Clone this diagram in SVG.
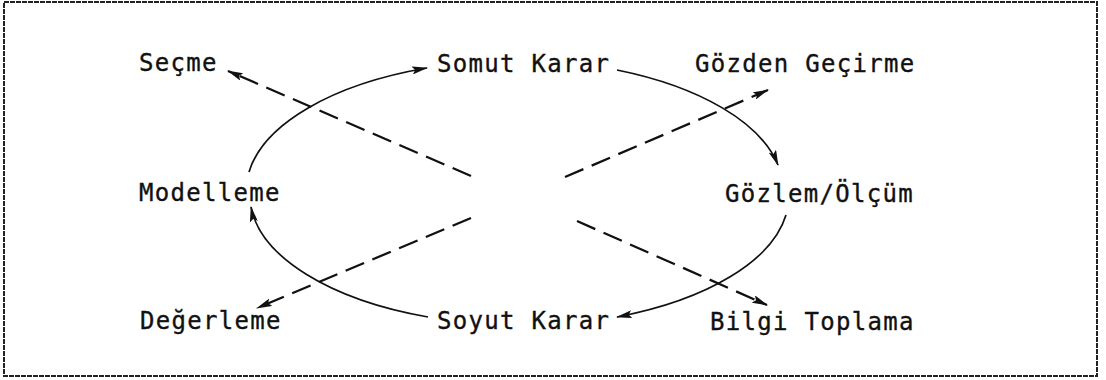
<svg xmlns="http://www.w3.org/2000/svg" width="1106" height="380" viewBox="0 0 1106 380">
<style>
.lbl{font-family:"DejaVu Sans Mono","Liberation Mono",monospace;font-size:24px;letter-spacing:1.3px;fill:#111;stroke:#111;stroke-width:0.35}
.arc{fill:none;stroke:#111;stroke-width:1.7}
.dash{fill:none;stroke:#111;stroke-width:2.3;stroke-dasharray:20 9}
</style>
<defs>
<marker id="ah" viewBox="0 0 16 8" markerWidth="16" markerHeight="8" refX="15" refY="4" orient="auto" markerUnits="userSpaceOnUse">
<path d="M0,0 L16,4 L0,8 L3,4 z" fill="#111"/>
</marker>
</defs>
<rect x="4" y="2" width="1093" height="374" fill="#fff" stroke="#222" stroke-width="2" stroke-dasharray="5 1"/>
<g id="connectors">
<path class="arc" d="M249,172 A272,130 0 0 1 427,68" marker-end="url(#ah)"/>
<path class="arc" d="M617,70 A272,130 0 0 1 778,165" marker-end="url(#ah)"/>
<path class="arc" d="M786,215 A272,130 0 0 1 617,317" marker-end="url(#ah)"/>
<path class="arc" d="M428,317 A272,130 0 0 1 251,207" marker-end="url(#ah)"/>
<path class="dash" d="M471,176 L228,71" marker-end="url(#ah)"/>
<path class="dash" d="M565,177 L768,90" marker-end="url(#ah)"/>
<path class="dash" d="M471,218 L257,308" marker-end="url(#ah)"/>
<path class="dash" d="M577,221 L767,305" marker-end="url(#ah)"/>
</g>
<g id="n-secme"><text class="lbl" x="139" y="71">Seçme</text></g>
<g id="n-somut"><text class="lbl" x="437" y="72">Somut Karar</text></g>
<g id="n-gozden"><text class="lbl" x="695" y="72">Gözden Geçirme</text></g>
<g id="n-modelleme"><text class="lbl" x="139" y="201">Modelleme</text></g>
<g id="n-gozlem"><text class="lbl" x="725" y="202">Gözlem/Ölçüm</text></g>
<g id="n-degerleme"><text class="lbl" x="140" y="329">Değerleme</text></g>
<g id="n-soyut"><text class="lbl" x="437" y="329">Soyut Karar</text></g>
<g id="n-bilgi"><text class="lbl" x="710" y="330">Bilgi Toplama</text></g>
</svg>
